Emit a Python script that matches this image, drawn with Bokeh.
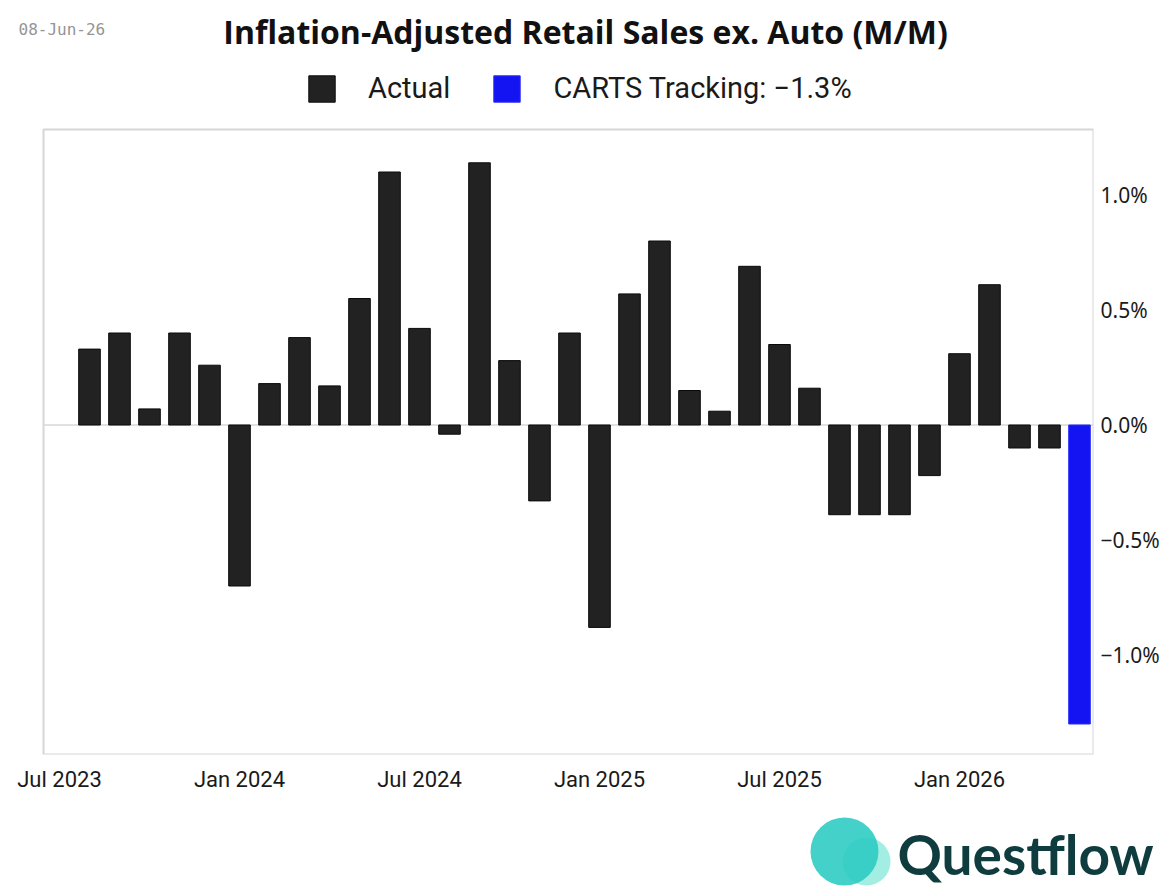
from bokeh.plotting import figure
from bokeh.models import (ColumnDataSource, FixedTicker, Label, Legend, LegendItem,
                          Range1d, CustomJSTickFormatter, BoxAnnotation)
from bokeh.embed import file_html
from bokeh.resources import INLINE
from bokeh.core.properties import value

# ---- data ----
months = ["Aug 2023", "Sep 2023", "Oct 2023", "Nov 2023", "Dec 2023",
          "Jan 2024", "Feb 2024", "Mar 2024", "Apr 2024", "May 2024", "Jun 2024",
          "Jul 2024", "Aug 2024", "Sep 2024", "Oct 2024", "Nov 2024", "Dec 2024",
          "Jan 2025", "Feb 2025", "Mar 2025", "Apr 2025", "May 2025", "Jun 2025",
          "Jul 2025", "Aug 2025", "Sep 2025", "Oct 2025", "Nov 2025", "Dec 2025",
          "Jan 2026", "Feb 2026", "Mar 2026", "Apr 2026"]
actual = [0.33, 0.40, 0.07, 0.40, 0.26,
          -0.70, 0.18, 0.38, 0.17, 0.55, 1.10,
          0.42, -0.04, 1.14, 0.28, -0.33, 0.40,
          -0.88, 0.57, 0.80, 0.15, 0.06, 0.69,
          0.35, 0.16, -0.39, -0.39, -0.39, -0.22,
          0.31, 0.61, -0.10, -0.10]
carts_month = ["May 2026"]
carts = [-1.30]

tick_labels = ["Jul 2023", "Jan 2024", "Jul 2024", "Jan 2025", "Jul 2025", "Jan 2026"]
y_ticks = [-1.0, -0.5, 0.0, 0.5, 1.0]

title_text = "Inflation-Adjusted Retail Sales ex. Auto (M/M)"
date_text = "08-Jun-26"
legend_actual = "Actual"
legend_carts = "CARTS Tracking: \u22121.3%"
brand_text = "Questflow"

# month index: Jul 2023 = 0
idx_actual = list(range(1, 1 + len(actual)))
idx_carts = [1 + len(actual)]
tick_pos = [0, 6, 12, 18, 24, 30]

# plot box extent (data units); the frame extends beyond it for header texts
BOX_LEFT, BOX_RIGHT = -0.533, 34.467
Y_MIN, BOX_TOP, Y_MAX = -1.4326, 1.285, 1.8457
X_MIN = -1.9667

src_a = ColumnDataSource(dict(x=idx_actual, top=actual, month=months))
src_c = ColumnDataSource(dict(x=idx_carts, top=carts, month=carts_month))

p = figure(width=1171, height=808, output_backend="svg", toolbar_location=None,
           x_range=Range1d(X_MIN, BOX_RIGHT), y_range=Range1d(Y_MIN, Y_MAX),
           y_axis_location="right", min_border_left=0, min_border_right=78,
           min_border_top=0, min_border_bottom=54)
p.background_fill_color = "white"
p.border_fill_color = "white"
p.outline_line_color = None
p.xgrid.visible = False
p.ygrid.visible = False

# plot box and zero line
p.add_layout(BoxAnnotation(left=BOX_LEFT, right=BOX_RIGHT, bottom=Y_MIN, top=BOX_TOP,
                           fill_alpha=0, line_color="#d6d6d6", line_alpha=1.0,
                           line_width=2))
p.line(x=[BOX_LEFT, BOX_RIGHT], y=[0, 0], line_color="#c4c4c4", line_width=1)

r_a = p.vbar(x="x", top="top", bottom=0, width=0.72, source=src_a,
             fill_color="#222222", line_color="#0a0a0a", line_width=1)
r_c = p.vbar(x="x", top="top", bottom=0, width=0.72, source=src_c,
             fill_color="#1414f2", line_color="#2a2aff", line_width=1)

# x axis
xa = p.xaxis[0]
xa.ticker = FixedTicker(ticks=tick_pos)
xa.major_label_overrides = {t: l for t, l in zip(tick_pos, tick_labels)}
xa.major_tick_line_color = None
xa.major_tick_out = 0
xa.major_tick_in = 0
xa.minor_tick_line_color = None
xa.axis_line_color = None
xa.major_label_text_font = "Roboto"
xa.major_label_text_font_size = "22px"
xa.major_label_text_color = "#1a1a1a"
xa.major_label_standoff = 12

# y axis
ya = p.yaxis[0]
ya.ticker = FixedTicker(ticks=y_ticks)
ya.formatter = CustomJSTickFormatter(code="""
    const s = Math.abs(tick).toFixed(1) + '%';
    return (tick < -1e-9 ? '\u2212' : '') + s;
""")
ya.major_tick_line_color = None
ya.major_tick_out = 0
ya.major_tick_in = 0
ya.minor_tick_line_color = None
ya.axis_line_color = None
ya.major_label_text_font = "Noto Sans"
ya.major_label_text_font_size = "21px"
ya.major_label_text_color = "#1a1a1a"
ya.major_label_standoff = 7

# legend (inside the header part of the frame)
legend = Legend(items=[LegendItem(label=legend_actual, renderers=[r_a]),
                       LegendItem(label=legend_carts, renderers=[r_c])],
                location=(305, 649), orientation="horizontal",
                glyph_width=33, glyph_height=33, label_standoff=30, spacing=40,
                padding=0, margin=0, border_line_color=None,
                background_fill_alpha=0,
                label_text_font="Roboto", label_text_font_size="29px",
                label_text_color="#1a1a1a")
p.add_layout(legend, "center")

# title & date
p.add_layout(Label(x=585, y=723, x_units="screen", y_units="screen", text=title_text,
                   text_align="center", text_baseline="middle",
                   text_font="Open Sans", text_font_style="bold", text_font_size="32px",
                   text_color="#111111"))
p.add_layout(Label(x=18, y=725.5, x_units="screen", y_units="screen", text=date_text,
                   text_align="left", text_baseline="middle",
                   text_font="DejaVu Sans Mono", text_font_size="16px",
                   text_color="#959595"))

# footer with logo (separate root, not frame-aligned)
f = figure(width=1171, height=88, output_backend="svg", toolbar_location=None,
           x_range=Range1d(0, 1171), y_range=Range1d(0, 88),
           x_axis_location=None, y_axis_location=None, min_border=0)
f.outline_line_color = None
f.xgrid.visible = False
f.ygrid.visible = False
f.circle(x=[866], y=[35], radius=24, fill_color="#a3eee3", line_color=None)
f.circle(x=[844], y=[45], radius=34, fill_color="#2acbc1", line_color=None, fill_alpha=0.88)
f.text(x=[897], y=[43], text=[brand_text], text_font=value("Lato"),
       text_font_size="55px", text_font_style="bold", text_color="#0f3c3e",
       text_baseline="middle")

open("out.html", "w").write(file_html([p, f], INLINE))
